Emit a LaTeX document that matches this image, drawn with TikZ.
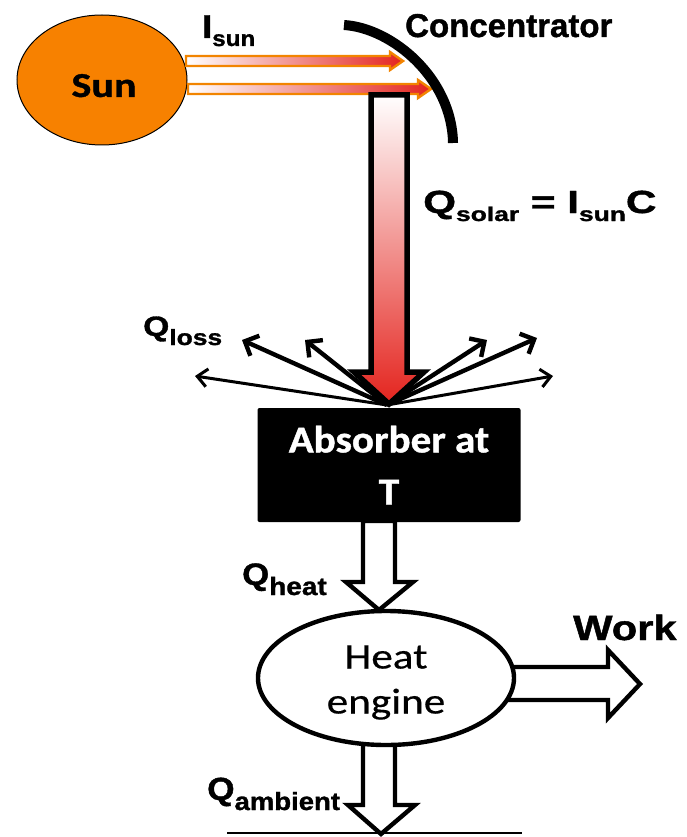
\documentclass[tikz,border=0pt]{standalone}
\usepackage{fontspec}
\setmainfont{Liberation Sans}[BoldFeatures={FakeBold=1.2}]
\newfontfamily\carl{Carlito}[BoldFeatures={FakeBold=1}]
\newfontfamily\carlr{Carlito}[FakeBold=0.4]
\usetikzlibrary{arrows.meta,shapes.geometric}
\definecolor{sunorange}{RGB}{247,129,0}
\definecolor{rayorange}{RGB}{242,132,0}
\definecolor{rayred}{RGB}{228,36,30}
\newcommand\fs[1]{\fontsize{#1}{#1}\selectfont}
\begin{document}
\begin{tikzpicture}[x=1pt,y=-1pt,
  lbl/.style={anchor=base west,inner sep=0pt,font=\bfseries},
  ray/.style={left color=white,right color=rayred,draw=rayorange,line width=2.4pt,line join=miter},
  hollow/.style={draw=black,fill=white,line width=4.4pt,line join=miter},
  loss/.style={line width=4.4pt,-{Straight Barb[length=11pt,width=22pt]}},
  thinloss/.style={line width=3pt,-{Straight Barb[length=10pt,width=18pt]}}]
\useasboundingbox (0,0) rectangle (687,837);

% Sun
\node[ellipse,draw=black,line width=1pt,fill=sunorange,minimum width=170pt,minimum height=130pt,inner sep=0pt] (sun) at (102,80) {};
\node[inner sep=0pt,anchor=base] (suntext) at (104,97) {\scalebox{1.2}[1]{\carl\bfseries\fs{35}Sun}};

% rays
\shade[ray] (186,56) -- (390,56) -- (390,52) -- (403,61) -- (390,70) -- (390,66) -- (186,66) -- cycle;
\shade[ray] (188,84) -- (418,84) -- (418,80) -- (431,89) -- (418,98) -- (418,94) -- (188,94) -- cycle;

% concentrator
\draw[line width=10pt] (344,25) .. controls (392,28) and (452,78) .. (453,143);

\node[lbl] (isun) at (202,38) {\scalebox{1.1}[1]{\fs{33}I\raisebox{-8pt}{\fs{22}sun}}};
\node[lbl] (conc) at (405,37) {\fs{33}Concentrator};

% loss arrows
\coordinate (src) at (387,405);
\coordinate (l1) at (195,376);
\coordinate (l2) at (242,340);
\coordinate (l3) at (305,340);
\coordinate (l4) at (487,340);
\coordinate (l5) at (537,338);
\coordinate (l6) at (553,376);
\draw[thinloss] (src) -- (l1);
\draw[loss] (src) -- (l2);
\draw[loss] (src) -- (l3);
\draw[loss] (src) -- (l4);
\draw[loss] (src) -- (l5);
\draw[thinloss] (src) -- (l6);

% big solar arrow
\shade[top color=white,bottom color=rayred,draw=black,line width=5.5pt,line join=miter]
  (371,95) -- (407,95) -- (407,372) -- (424,372) -- (389,404) -- (354,372) -- (371,372) -- cycle;

\node[lbl] (qsolar) at (423,213) {\scalebox{1.32}[1]{\fs{32}Q\raisebox{-8pt}{\fs{20}solar} = I\raisebox{-8pt}{\fs{20}sun}C}};
\node[lbl] (qloss) at (143,336) {\scalebox{1.2}[1]{\fs{28}Q\raisebox{-9pt}{\fs{22}loss}}};

% absorber
\node[fill=black,rounded corners=2pt,minimum width=263pt,minimum height=114pt,inner sep=0pt] (abs) at (389,465) {};
\node[inner sep=0pt,text=white,align=center] (abstext) at (389,468) {\scalebox{1.08}[1]{\carl\bfseries\fontsize{38}{52}\selectfont\begin{tabular}{@{}c@{}}Absorber at\\T\end{tabular}}};

% Q_heat arrow
\draw[hollow] (363,521) -- (395,521) -- (395,582) -- (413,582) -- (379,610) -- (346,582) -- (363,582) -- cycle;
\node[lbl] (qheat) at (242,585) {\scalebox{1.12}[1]{\fs{31}Q\raisebox{-10pt}{\fs{25}heat}}};

% work arrow
\draw[hollow] (505,667) -- (608,667) -- (608,650) -- (640,684) -- (608,718) -- (608,700) -- (505,700) -- cycle;
% ambient arrow
\draw[hollow] (363,735) -- (395,735) -- (395,805) -- (415,805) -- (381,834) -- (348,805) -- (363,805) -- cycle;
\draw[line width=2.5pt] (227,833) -- (522,833);

% engine
\node[ellipse,draw=black,fill=white,line width=4.4pt,minimum width=256pt,minimum height=134pt,inner sep=0pt] (eng) at (386,678) {};
\node[inner sep=0pt,align=center] (engtext) at (386,682) {\scalebox{1.2}[1]{\carlr\fontsize{36}{45}\selectfont\begin{tabular}{@{}c@{}}Heat\\engine\end{tabular}}};

\node[lbl] (work) at (573,640) {\scalebox{1.19}[1]{\fs{35}Work}};
\node[lbl] (qamb) at (207,800) {\scalebox{1.1}[1]{\fs{32}Q\raisebox{-10pt}{\fs{25}ambient}}};
\end{tikzpicture}
\end{document}
